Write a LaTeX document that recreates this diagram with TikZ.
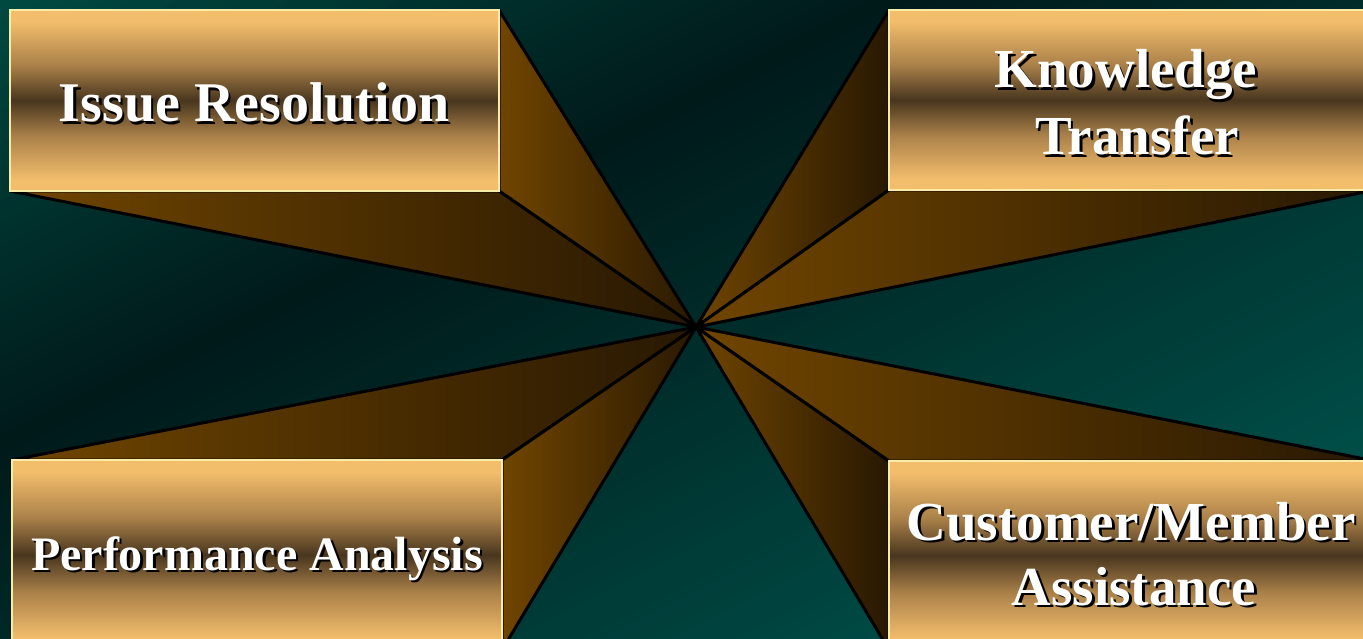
\documentclass[tikz,border=0pt]{standalone}
\usepackage{fontspec}
\setmainfont{Liberation Serif}
\usetikzlibrary{backgrounds}
\definecolor{gold}{RGB}{243,190,108}
\definecolor{midg}{RGB}{172,130,74}
\definecolor{dkb}{RGB}{72,54,30}
\definecolor{bord}{RGB}{248,236,168}
\definecolor{tor}{RGB}{112,69,0}
\definecolor{tdk}{RGB}{40,24,2}
\pgfdeclareverticalshading{boxsh}{100bp}{color(0bp)=(gold); color(28bp)=(gold); color(40bp)=(midg); color(50bp)=(dkb); color(60bp)=(midg); color(72bp)=(gold); color(100bp)=(gold)}
\newcommand{\mylbl}[5]{%
  \node[txs,font=\fontsize{#4}{#4}\selectfont\bfseries,xshift=2.5pt,yshift=-2.5pt] (#1s) at (#2,#3) {#5};
  \node[txt,font=\fontsize{#4}{#4}\selectfont\bfseries] (#1) at (#2,#3) {#5};}
\begin{document}
\begin{tikzpicture}[x=1pt,y=-1pt,
  boxst/.style={draw=bord, line width=2.5pt, shade, shading=boxsh, inner sep=0pt, outer sep=0pt, anchor=north west},
  tri/.style={draw=black, line width=3pt, line join=round, left color=tor, right color=tdk},
  txt/.style={text=white, inner sep=0pt, anchor=base},
  txs/.style={text=black, inner sep=0pt, anchor=base}]
\useasboundingbox (0,0) rectangle (1363,639);
% boxes
\node[boxst, minimum width=489pt, minimum height=181pt] (b1) at (10,10) {};
\node[boxst, minimum width=486pt, minimum height=180pt] (b2) at (889,10) {};
\node[boxst, minimum width=490pt, minimum height=190pt] (b3) at (12,460) {};
\node[boxst, minimum width=486pt, minimum height=189pt] (b4) at (889,461) {};
\coordinate (c) at (696,327);
% labels
\mylbl{l1}{254}{122}{56}{Issue Resolution}
\mylbl{l2a}{1126}{88}{55}{Knowledge}
\mylbl{l2b}{1137}{155}{55}{Transfer}
\mylbl{l3}{257}{570}{48}{Performance Analysis}
\mylbl{l4a}{1131}{540}{55}{Customer/Member}
\mylbl{l4b}{1134}{605}{55}{Assistance}
\begin{pgfonlayer}{background}
  \begin{scope}
    \clip (0,0) rectangle (1363,639);
    \fill[black!80!teal] (0,0) rectangle (1363,639);
    \foreach \i in {0,...,119}{
      \pgfmathsetmacro{\ta}{\i*10}
      \pgfmathsetmacro{\tb}{\i*10+11}
      \pgfmathsetmacro{\tm}{\i*10+5}
      \pgfmathtruncatemacro{\gg}{\tm<400 ? 74-0.12*\tm : 26+0.08462*(\tm-400)}
      \pgfmathtruncatemacro{\bb}{\tm<400 ? 66-0.1*\tm : 26+0.07436*(\tm-400)}
      \definecolor{bgc}{RGB}{0,\gg,\bb}
      \fill[bgc] ({0.4472*\ta-1431},{0.8944*\ta+715.5}) -- ({0.4472*\ta+1431},{0.8944*\ta-715.5}) -- ({0.4472*\tb+1431},{0.8944*\tb-715.5}) -- ({0.4472*\tb-1431},{0.8944*\tb+715.5}) -- cycle;
    }
  \end{scope}
  \path[tri] (b1.north east) -- (b1.south east) -- (c) -- cycle;
  \path[tri] (b1.south west) -- (b1.south east) -- (c) -- cycle;
  \path[tri] (b2.north west) -- (b2.south west) -- (c) -- cycle;
  \path[tri] (b2.south west) -- (b2.south east) -- (c) -- cycle;
  \path[tri] (b3.north west) -- (b3.north east) -- (c) -- cycle;
  \path[tri] (b3.north east) -- (b3.south east) -- (c) -- cycle;
  \path[tri] (b4.north west) -- (b4.south west) -- (c) -- cycle;
  \path[tri] (b4.north west) -- (b4.north east) -- (c) -- cycle;
\end{pgfonlayer}
\end{tikzpicture}
\end{document}
